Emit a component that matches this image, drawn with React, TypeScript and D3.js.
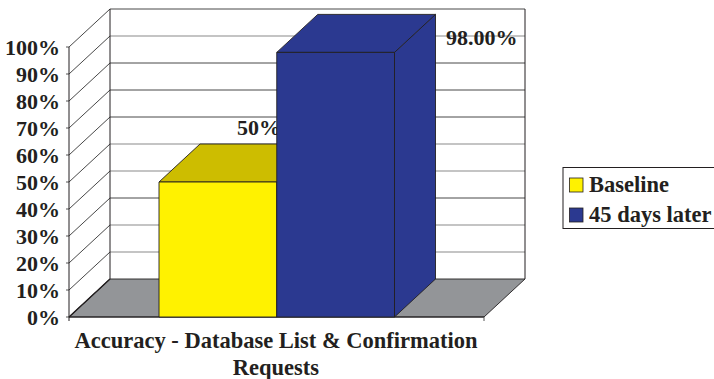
import React from "react";
import * as d3 from "d3";

const categories = ["Accuracy - Database List & Confirmation", "Requests"];
const seriesNames = ["Baseline", "45 days later"];
const seriesValues = [50, 98];
const valueLabels = ["50%", "98.00%"];
const yTicks = [0, 10, 20, 30, 40, 50, 60, 70, 80, 90, 100];
const darkGridTicks = [30, 60, 80, 70];

const FRONT_COLORS = ["#fff200", "#2b3990"];
const TOP_COLORS = ["#cdbd00", "#2b3990"];
const INK = "#231f20";
const FONT = "'Liberation Serif', serif";

const DX = 41;
const DY = -38;
const X0 = 69;
const X1 = 484;

export default function App() {
  const y = d3.scaleLinear().domain([0, 100]).range([317, 47]);
  const x = d3.scaleBand<string>().domain(seriesNames).range([159, 394.5]);
  const line = d3.line();
  const poly = (pts: [number, number][]) => line(pts) + "Z";

  const bars = seriesNames.map((name, i) => {
    const l = x(name)!;
    const r = l + x.bandwidth();
    const t = y(seriesValues[i]);
    const b = y(0);
    return { name, i, l, r, t, b };
  });

  return (
    <svg
      width={714}
      height={379}
      style={{ position: "absolute", left: 0, top: 0, background: "#fff" }}
      fontFamily={FONT}
      fontWeight="bold"
      fill={INK}
    >
      {/* floor */}
      <path
        d={poly([[X0, y(0)], [X0 + DX, y(0) + DY], [X1 + DX, y(0) + DY], [X1, y(0)]])}
        fill="#939598"
        stroke={INK}
        strokeWidth={0.9}
      />
      {/* gridlines on back and side wall */}
      {yTicks.map((t) => {
        const dark = t === 0 || t === 100 || darkGridTicks.includes(t);
        return (
          <g key={t}>
            {t > 0 && (
              <line
                x1={X0 + DX}
                x2={X1 + DX}
                y1={y(t) + DY}
                y2={y(t) + DY}
                stroke={dark ? "#333" : "#8a8a8a"}
                strokeWidth={dark ? 0.9 : 1.2}
              />
            )}
            <line x1={X0} x2={X0 + DX} y1={y(t)} y2={y(t) + DY} stroke="#333" strokeWidth={0.9} />
            <line x1={X0 - 3} x2={X0} y1={y(t)} y2={y(t)} stroke="#555" strokeWidth={1} />
          </g>
        );
      })}
      {/* wall edges */}
      <line x1={X0} x2={X0} y1={y(0) + 4} y2={y(100)} stroke={INK} strokeWidth={1} />
      <line x1={X0 + DX} x2={X0 + DX} y1={y(0) + DY} y2={y(100) + DY} stroke={INK} strokeWidth={1} />
      <line x1={X1 + DX} x2={X1 + DX} y1={y(0) + DY} y2={y(100) + DY} stroke={INK} strokeWidth={1} />
      <line x1={X0} x2={X1} y1={y(0)} y2={y(0)} stroke={INK} strokeWidth={1.2} />
      <line x1={X1} x2={X1} y1={y(0)} y2={y(0) + 4} stroke="#555" strokeWidth={1} />
      <line x1={X0} x2={X0 + DX} y1={y(0)} y2={y(0) + DY} stroke={INK} strokeWidth={1.4} />

      {/* value labels that sit behind the bars */}
      <text x={237} y={135} fontSize={22}>{valueLabels[0]}</text>

      {/* bars */}
      {bars.map(({ name, i, l, r, t, b }) => (
        <g key={name} stroke={INK} strokeWidth={0.9} strokeLinejoin="round">
          <path d={poly([[r, t], [r + DX, t + DY], [r + DX, b + DY], [r, b]])} fill={FRONT_COLORS[i]} />
          <path d={poly([[l, t], [l + DX, t + DY], [r + DX, t + DY], [r, t]])} fill={TOP_COLORS[i]} />
          <rect x={l} y={t} width={r - l} height={b - t} fill={FRONT_COLORS[i]} />
        </g>
      ))}

      <text x={446} y={45} fontSize={22}>{valueLabels[1]}</text>

      {/* y tick labels */}
      {yTicks.map((t) => (
        <text key={t} x={60} y={y(t) + 8} textAnchor="end" fontSize={22}>
          {t}%
        </text>
      ))}

      {/* category label */}
      {categories.map((c, i) => (
        <text key={c} x={276} y={348 + i * 27} textAnchor="middle" fontSize={22.5}>
          {c}
        </text>
      ))}

      {/* legend */}
      <rect x={563} y={167.5} width={152} height={61} fill="#fff" stroke={INK} strokeWidth={1} />
      {seriesNames.map((name, i) => (
        <g key={name}>
          <rect x={569.5} y={178 + i * 30} width={13.5} height={14} fill={FRONT_COLORS[i]} stroke={INK} strokeWidth={0.8} />
          <text x={589} y={191.5 + i * 30} fontSize={22.5}>{name}</text>
        </g>
      ))}
    </svg>
  );
}
